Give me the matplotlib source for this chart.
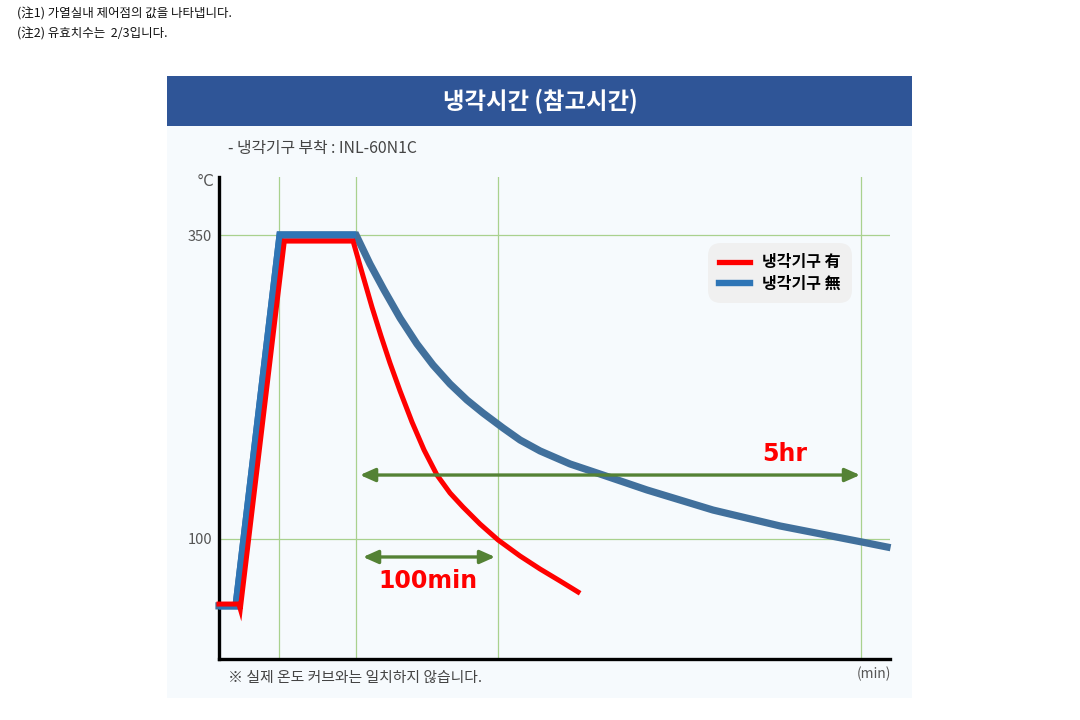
import matplotlib
matplotlib.use("Agg")
import matplotlib.pyplot as plt
from matplotlib.patches import Rectangle
from matplotlib.lines import Line2D

plt.rcParams['font.family'] = ['Noto Sans CJK KR', 'DejaVu Sans']

# ---- data (x in illustrative minutes, y in °C) ----
blue_x = [0, 12, 43, 96.5, 106.3, 116.2, 127.5, 139.4, 150.7, 162.7, 174.6, 185.9, 200.0, 212.0,
          226.1, 247.2, 270.4, 301.4, 347.9, 395.1, 452.8, 470.4]
blue_y = [45, 45, 350, 350, 326.2, 304.8, 281.7, 260.4, 243.1, 227.5, 214.3, 203.6, 191.3, 181.4,
          172.4, 161.7, 152.6, 140.3, 123.8, 110.7, 97.5, 93.4]
red_x = [0, 14, 15, 46, 94.4, 101.4, 107.7, 114.1, 120.4, 127.5, 135.9, 144.4, 153.5, 162.7,
         171.8, 183.8, 196.5, 212.0, 226.1, 240.1, 252.8]
red_y = [46.5, 46.5, 42.5, 345, 345, 316.3, 290.8, 266.9, 244.7, 221.7, 196.2, 173.2, 152.6, 137.8,
         126.3, 112.3, 99.2, 86.0, 75.3, 65.5, 56.4]
y_ticks = [100, 350]
x_grid = [42.3, 96.5, 196.5, 452]
arrow_5hr = (99.3, 451.4, 152.6)
arrow_100 = (101.4, 194.4, 85.2)
legend_labels = ['냉각기구 有', '냉각기구 無']

RED = '#FF0000'
BLUE = '#41709C'
BLUE_LIGHT = '#2E75B6'
GREEN = '#548235'
GRID = '#A9D18E'
GRAY = '#555555'

fig = plt.figure(figsize=(10.8, 7.2), dpi=100)
fig.patch.set_facecolor('white')

W, H = 1080, 720
def fx(px):
    return px / W
def fy(py):
    return 1 - py / H

# panel background and header (behind the axes)
fig.patches.append(Rectangle((fx(167), fy(698)), fx(912) - fx(167), fy(126) - fy(698),
                             transform=fig.transFigure, facecolor='#F6FAFD', edgecolor='none', zorder=-10))
fig.patches.append(Rectangle((fx(167), fy(126)), fx(912) - fx(167), fy(76) - fy(126),
                             transform=fig.transFigure, facecolor='#2F5597', edgecolor='none', zorder=-10))
fig.text(fx(540), fy(101), '냉각시간 (참고시간)', color='white', fontsize=16.8, fontweight='bold',
         ha='center', va='center')

# top notes
fig.text(fx(17), fy(14), '(注1) 가열실내 제어점의 값을 나타냅니다.', fontsize=9, ha='left', va='center', color='#111111')
fig.text(fx(17), fy(34), '(注2) 유효치수는  2/3입니다.', fontsize=9, ha='left', va='center', color='#111111')

# subtitle and notes
fig.text(fx(228), fy(148), '- 냉각기구 부착 : INL-60N1C', fontsize=11.4, ha='left', va='center', color='#444444')
fig.text(fx(228), fy(678), '※ 실제 온도 커브와는 일치하지 않습니다.', fontsize=10.7, ha='left', va='center', color='#444444')
fig.text(fx(205), fy(182), '°C', fontsize=10.5, ha='center', va='center', color=GRAY, family=['DejaVu Sans'])
fig.text(fx(874), fy(674), '(min)', fontsize=10, ha='center', va='center', color=GRAY)

ax = fig.add_axes([fx(219), fy(659), fx(890) - fx(219), fy(177) - fy(659)])
ax.set_facecolor('none')
ax.set_xlim(0, 472.5)
ax.set_ylim(1.3, 397.7)

for s in ['top', 'right']:
    ax.spines[s].set_visible(False)
for s in ['left', 'bottom']:
    ax.spines[s].set_linewidth(2.4)
    ax.spines[s].set_color('black')

ax.set_yticks(y_ticks)
ax.set_yticklabels([str(v) for v in y_ticks], color=GRAY, fontsize=10.5)
ax.set_xticks(x_grid)
ax.set_xticklabels([])
ax.tick_params(length=0, pad=5)
ax.grid(True, color=GRID, linewidth=0.9)
ax.set_axisbelow(True)

ax.plot(blue_x, blue_y, color=BLUE, linewidth=5.2, solid_joinstyle='miter', zorder=3, clip_on=False)
ax.plot(blue_x[:4], blue_y[:4], color=BLUE_LIGHT, linewidth=5.2, solid_joinstyle='miter',
        solid_capstyle='butt', zorder=3.1, clip_on=False)
ax.plot(red_x, red_y, color=RED, linewidth=3.6, solid_joinstyle='miter', zorder=4, clip_on=False)

# arrows
for (x0, x1, yv) in [arrow_5hr, arrow_100]:
    ax.annotate('', xy=(x1, yv), xytext=(x0, yv),
                arrowprops=dict(arrowstyle='<|-|>,head_length=0.9,head_width=0.4', color=GREEN,
                                lw=2.4, shrinkA=0, shrinkB=0), zorder=5)

ax.text(398, 170, '5hr', color=RED, fontsize=17, fontweight='bold', ha='center', va='center',
        family=['DejaVu Sans'])
ax.text(147, 65.5, '100min', color=RED, fontsize=17, fontweight='bold', ha='center', va='center',
        family=['DejaVu Sans'])

# legend
handles = [Line2D([0], [0], color=RED, lw=3.8), Line2D([0], [0], color=BLUE_LIGHT, lw=4.6)]
leg = ax.legend(handles, legend_labels, loc='upper left',
                bbox_to_anchor=((708 - 219) / (890 - 219), (659 - 243) / (659 - 177)),
                bbox_transform=ax.transAxes,
                prop={'weight': 'bold', 'size': 11.5, 'family': ['Noto Sans CJK KR', 'DejaVu Sans']},
                frameon=True, fancybox=True, facecolor='#F0F0F0', edgecolor='none', framealpha=1,
                handlelength=1.9, handletextpad=0.8, labelspacing=0.35, borderpad=0.7,
                borderaxespad=0)
leg.get_frame().set_boxstyle('round,pad=0,rounding_size=0.8')

fig.savefig('out.png', dpi=100, facecolor='white')
